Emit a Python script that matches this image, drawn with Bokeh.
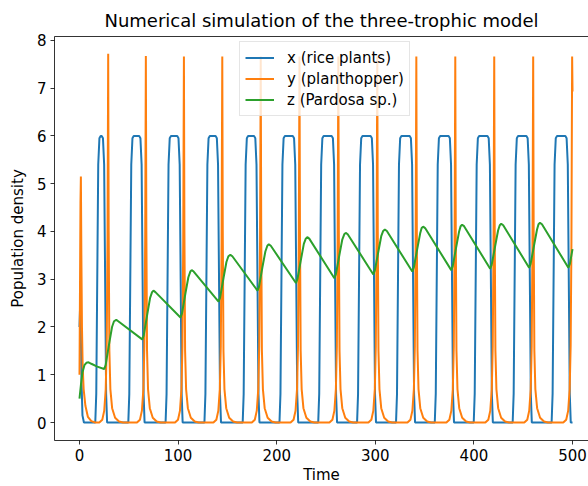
from bokeh.plotting import figure
from bokeh.models import Legend, LegendItem, FixedTicker, LinearAxis, Range1d
from bokeh.embed import file_html
from bokeh.resources import INLINE

title_text = "Numerical simulation of the three-trophic model"
x_label = "Time"
y_label = "Population density"
series_names = ["x (rice plants)", "y (planthopper)", "z (Pardosa sp.)"]
series_colors = ["#1f77b4", "#ff7f0e", "#2ca02c"]
x_ticks = [0, 100, 200, 300, 400, 500]
y_ticks = [0, 1, 2, 3, 4, 5, 6, 7, 8]

# x (rice plants)
x_time = [0, 0.6, 1.2, 2.0, 3.0, 4.5,
          16.0, 17.0, 18.0, 19.0, 20.2, 21.5, 22.5, 23.8, 25.0, 26.0, 27.0, 28.0,
          49.5, 50.5, 51.5, 52.5, 53.7, 55.0, 60.5, 61.8, 63.0, 64.0, 65.0, 66.0,
          87.3, 88.3, 89.3, 90.3, 91.5, 92.8, 99.1, 100.4, 101.6, 102.6, 103.6, 104.6,
          126.7, 127.7, 128.7, 129.7, 130.9, 132.2, 138.0, 139.3, 140.5, 141.5, 142.5, 143.5,
          165.5, 166.5, 167.5, 168.5, 169.7, 171.0, 177.0, 178.3, 179.5, 180.5, 181.5, 182.5,
          202.8, 203.8, 204.8, 205.8, 207.0, 208.3, 216.3, 217.6, 218.8, 219.8, 220.8, 221.8,
          242.1, 243.1, 244.1, 245.1, 246.3, 247.6, 255.7, 257.0, 258.2, 259.2, 260.2, 261.2,
          281.5, 282.5, 283.5, 284.5, 285.7, 287.0, 295.2, 296.5, 297.7, 298.7, 299.7, 300.7,
          321.0, 322.0, 323.0, 324.0, 325.2, 326.5, 334.8, 336.1, 337.3, 338.3, 339.3, 340.3,
          360.3, 361.3, 362.3, 363.3, 364.5, 365.8, 374.3, 375.6, 376.8, 377.8, 378.8, 379.8,
          399.8, 400.8, 401.8, 402.8, 404.0, 405.3, 413.7, 415.0, 416.2, 417.2, 418.2, 419.2,
          439.3, 440.3, 441.3, 442.3, 443.5, 444.8, 453.2, 454.5, 455.7, 456.7, 457.7, 458.7,
          478.8, 479.8, 480.8, 481.8, 483.0, 484.3, 492.7, 494.0, 495.2, 496.2, 497.2, 498.2,
          500.0]
x_vals = [2.0, 2.42, 2.1, 0.9, 0.15, 0.0,
          0, 0.6, 3.0, 5.4, 5.95, 6.0, 6.0, 5.95, 5.4, 3.0, 0.6, 0,
          0, 0.6, 3.0, 5.4, 5.95, 6.0, 6.0, 5.95, 5.4, 3.0, 0.6, 0,
          0, 0.6, 3.0, 5.4, 5.95, 6.0, 6.0, 5.95, 5.4, 3.0, 0.6, 0,
          0, 0.6, 3.0, 5.4, 5.95, 6.0, 6.0, 5.95, 5.4, 3.0, 0.6, 0,
          0, 0.6, 3.0, 5.4, 5.95, 6.0, 6.0, 5.95, 5.4, 3.0, 0.6, 0,
          0, 0.6, 3.0, 5.4, 5.95, 6.0, 6.0, 5.95, 5.4, 3.0, 0.6, 0,
          0, 0.6, 3.0, 5.4, 5.95, 6.0, 6.0, 5.95, 5.4, 3.0, 0.6, 0,
          0, 0.6, 3.0, 5.4, 5.95, 6.0, 6.0, 5.95, 5.4, 3.0, 0.6, 0,
          0, 0.6, 3.0, 5.4, 5.95, 6.0, 6.0, 5.95, 5.4, 3.0, 0.6, 0,
          0, 0.6, 3.0, 5.4, 5.95, 6.0, 6.0, 5.95, 5.4, 3.0, 0.6, 0,
          0, 0.6, 3.0, 5.4, 5.95, 6.0, 6.0, 5.95, 5.4, 3.0, 0.6, 0,
          0, 0.6, 3.0, 5.4, 5.95, 6.0, 6.0, 5.95, 5.4, 3.0, 0.6, 0,
          0, 0.6, 3.0, 5.4, 5.95, 6.0, 6.0, 5.95, 5.4, 3.0, 0.6, 0,
          0.0]

# y (planthopper)
y_time = [0, 0.5, 1.0, 1.4, 1.9, 2.5, 3.2, 4.2, 6.0, 8.5, 12.0, 16.0,
          20.1, 23.1, 25.1, 26.6, 27.6, 28.4, 29.1, 29.6, 30.3, 31.3, 33.1, 36.1, 40.1, 44.1,
          58.3, 61.3, 63.3, 64.8, 65.8, 66.6, 67.3, 67.8, 68.5, 69.5, 71.3, 74.3, 78.3, 82.3,
          96.9, 99.9, 101.9, 103.4, 104.4, 105.2, 105.9, 106.4, 107.1, 108.1, 109.9, 112.9, 116.9, 120.9,
          135.8, 138.8, 140.8, 142.3, 143.3, 144.1, 144.8, 145.3, 146.0, 147.0, 148.8, 151.8, 155.8, 159.8,
          174.8, 177.8, 179.8, 181.3, 182.3, 183.1, 183.8, 184.3, 185.0, 186.0, 187.8, 190.8, 194.8, 198.8,
          214.1, 217.1, 219.1, 220.6, 221.6, 222.4, 223.1, 223.6, 224.3, 225.3, 227.1, 230.1, 234.1, 238.1,
          253.5, 256.5, 258.5, 260.0, 261.0, 261.8, 262.5, 263.0, 263.7, 264.7, 266.5, 269.5, 273.5, 277.5,
          293.0, 296.0, 298.0, 299.5, 300.5, 301.3, 302.0, 302.5, 303.2, 304.2, 306.0, 309.0, 313.0, 317.0,
          332.6, 335.6, 337.6, 339.1, 340.1, 340.9, 341.6, 342.1, 342.8, 343.8, 345.6, 348.6, 352.6, 356.6,
          372.1, 375.1, 377.1, 378.6, 379.6, 380.4, 381.1, 381.6, 382.3, 383.3, 385.1, 388.1, 392.1, 396.1,
          411.6, 414.6, 416.6, 418.1, 419.1, 419.9, 420.6, 421.1, 421.8, 422.8, 424.6, 427.6, 431.6, 435.6,
          451.1, 454.1, 456.1, 457.6, 458.6, 459.4, 460.1, 460.6, 461.3, 462.3, 464.1, 467.1, 471.1, 475.1,
          490.6, 493.6, 495.6, 497.1, 498.1, 498.9, 499.6, 500.0]
y_vals = [1.0, 2.8, 4.6, 5.15, 3.5, 2.0, 1.2, 0.7, 0.35, 0.12, 0.03, 0.0,
          0, 0.06, 0.25, 0.7, 1.6, 3.8, 7.72, 4.0, 1.5, 0.7, 0.3, 0.1, 0.02, 0,
          0, 0.06, 0.25, 0.7, 1.6, 3.8, 7.67, 4.0, 1.5, 0.7, 0.3, 0.1, 0.02, 0,
          0, 0.06, 0.25, 0.7, 1.6, 3.8, 7.66, 4.0, 1.5, 0.7, 0.3, 0.1, 0.02, 0,
          0, 0.06, 0.25, 0.7, 1.6, 3.8, 7.66, 4.0, 1.5, 0.7, 0.3, 0.1, 0.02, 0,
          0, 0.06, 0.25, 0.7, 1.6, 3.8, 7.66, 4.0, 1.5, 0.7, 0.3, 0.1, 0.02, 0,
          0, 0.06, 0.25, 0.7, 1.6, 3.8, 7.66, 4.0, 1.5, 0.7, 0.3, 0.1, 0.02, 0,
          0, 0.06, 0.25, 0.7, 1.6, 3.8, 7.66, 4.0, 1.5, 0.7, 0.3, 0.1, 0.02, 0,
          0, 0.06, 0.25, 0.7, 1.6, 3.8, 7.66, 4.0, 1.5, 0.7, 0.3, 0.1, 0.02, 0,
          0, 0.06, 0.25, 0.7, 1.6, 3.8, 7.66, 4.0, 1.5, 0.7, 0.3, 0.1, 0.02, 0,
          0, 0.06, 0.25, 0.7, 1.6, 3.8, 7.66, 4.0, 1.5, 0.7, 0.3, 0.1, 0.02, 0,
          0, 0.06, 0.25, 0.7, 1.6, 3.8, 7.66, 4.0, 1.5, 0.7, 0.3, 0.1, 0.02, 0,
          0, 0.06, 0.25, 0.7, 1.6, 3.8, 7.66, 4.0, 1.5, 0.7, 0.3, 0.1, 0.02, 0,
          0, 0.06, 0.25, 0.7, 1.6, 3.8, 7.66, 6.93]

# z (Pardosa sp.)
z_time = [0, 1.5, 3, 5, 7, 9.2, 12, 18, 25,
          26.5, 30, 33, 35, 37.3, 39.3,
          63.6, 65.1, 68.6, 71.6, 73.6, 75.0, 77.0,
          102.4, 103.9, 107.4, 110.4, 112.4, 113.8, 115.8,
          141.0, 142.5, 146.0, 149.0, 151.0, 153.0, 155.0,
          180.5, 182.0, 185.5, 188.5, 190.5, 192.0, 194.0,
          219.5, 221.0, 224.5, 227.5, 229.5, 231.0, 233.0,
          258.5, 260.0, 263.5, 266.5, 268.5, 270.0, 272.0,
          298.0, 299.5, 303.0, 306.0, 308.0, 309.7, 311.7,
          337.5, 339.0, 342.5, 345.5, 347.0, 348.5, 350.5,
          377.0, 378.5, 382.0, 385.0, 386.5, 388.0, 390.0,
          416.5, 418.0, 421.5, 424.5, 426.2, 427.7, 429.7,
          456.0, 457.5, 461.0, 464.0, 465.5, 467.0, 469.0,
          495.8, 497.3, 500.0]
z_vals = [0.50, 0.80, 1.05, 1.20, 1.25, 1.26, 1.23, 1.17, 1.12,
          1.20, 1.64, 2.00, 2.12, 2.15, 2.12,
          1.74, 1.82, 2.25, 2.61, 2.73, 2.76, 2.73,
          2.20, 2.28, 2.70, 3.04, 3.16, 3.19, 3.16,
          2.53, 2.61, 3.02, 3.36, 3.48, 3.51, 3.48,
          2.76, 2.84, 3.25, 3.58, 3.70, 3.73, 3.70,
          2.92, 3.00, 3.40, 3.74, 3.85, 3.88, 3.85,
          3.02, 3.10, 3.50, 3.83, 3.94, 3.97, 3.94,
          3.10, 3.18, 3.57, 3.90, 4.01, 4.04, 4.01,
          3.16, 3.24, 3.63, 3.96, 4.07, 4.10, 4.07,
          3.19, 3.27, 3.67, 4.00, 4.11, 4.14, 4.11,
          3.22, 3.30, 3.69, 4.02, 4.13, 4.16, 4.13,
          3.24, 3.32, 3.71, 4.04, 4.15, 4.18, 4.15,
          3.24, 3.32, 3.63]

FONT = "DejaVu Sans"
FS = "15px"

p = figure(width=588, height=486, output_backend="svg", toolbar_location=None,
           x_range=Range1d(-25.35, 516.2), y_range=Range1d(-0.376, 8.08),
           min_border_left=54, min_border_right=0, min_border_top=36,
           min_border_bottom=45)

p.title.text = title_text
p.title.text_font = FONT
p.title.text_font_size = "18px"
p.title.text_font_style = "normal"
p.title.text_color = "black"
p.title.align = "center"
p.title.offset = 3
p.title.standoff = 12

p.outline_line_color = None
p.grid.visible = False
p.background_fill_color = "white"
p.border_fill_color = "white"

for ax in (p.xaxis[0], p.yaxis[0]):
    ax.axis_line_color = "black"
    ax.axis_line_width = 0.8
    ax.major_tick_line_color = "black"
    ax.major_tick_line_width = 0.8
    ax.major_tick_out = 4
    ax.major_tick_in = 0
    ax.minor_tick_line_color = None
    ax.major_label_text_font = FONT
    ax.major_label_text_font_size = FS
    ax.major_label_text_color = "black"
    ax.axis_label_text_font = FONT
    ax.axis_label_text_font_size = FS
    ax.axis_label_text_font_style = "normal"
    ax.axis_label_text_color = "black"

p.xaxis.ticker = FixedTicker(ticks=x_ticks)
p.yaxis.ticker = FixedTicker(ticks=y_ticks)
p.xaxis.axis_label = x_label
p.yaxis.axis_label = y_label
p.xaxis.major_label_standoff = 4
p.xaxis.axis_label_standoff = 2
p.yaxis.major_label_standoff = 4
p.yaxis.axis_label_standoff = 7

top = LinearAxis(ticker=FixedTicker(ticks=[]), axis_line_color="black",
                 axis_line_width=0.8, major_tick_line_color=None,
                 minor_tick_line_color=None, major_label_text_font_size="0px",
                 major_tick_out=0, major_label_standoff=0)
p.add_layout(top, "above")

r1 = p.line(x_time, x_vals, line_color=series_colors[0], line_width=2)
r2 = p.line(y_time, y_vals, line_color=series_colors[1], line_width=2)
r3 = p.line(z_time, z_vals, line_color=series_colors[2], line_width=2)

legend = Legend(items=[LegendItem(label=series_names[0], renderers=[r1]),
                       LegendItem(label=series_names[1], renderers=[r2]),
                       LegendItem(label=series_names[2], renderers=[r3])],
                location=(185, 324))
legend.label_text_font = FONT
legend.label_text_font_size = FS
legend.label_text_color = "black"
legend.glyph_width = 29
legend.glyph_height = 21
legend.label_height = 21
legend.label_standoff = 13
legend.padding = 5
legend.spacing = 0
legend.margin = 0
legend.border_line_color = "#cccccc"
legend.border_line_width = 1
legend.background_fill_alpha = 0.8
p.add_layout(legend)

open("out.html", "w").write(file_html(p, INLINE))
